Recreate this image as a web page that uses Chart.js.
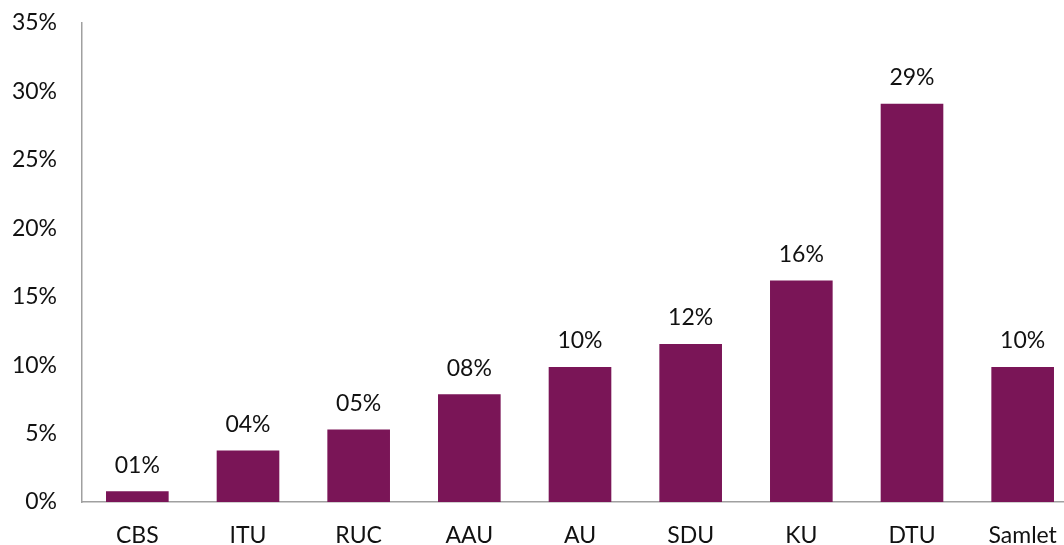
<!DOCTYPE html>
<html>
<head>
<meta charset="utf-8">
<script src="https://cdn.jsdelivr.net/npm/chart.js@4/dist/chart.umd.min.js"></script>
<style>
  html, body { margin: 0; padding: 0; background: #fff; overflow: hidden; }
  #wrap { width: 1064px; height: 545px; overflow: hidden; }
</style>
</head>
<body>
<div id="wrap"><canvas id="chart" width="1080" height="545"></canvas></div>
<script>
const categories = ['CBS', 'ITU', 'RUC', 'AAU', 'AU', 'SDU', 'KU', 'DTU', 'Samlet'];
const shares = [0.78, 3.76, 5.29, 7.87, 9.87, 11.55, 16.18, 29.1, 9.87];
const yTicks = [0, 5, 10, 15, 20, 25, 30, 35];

const barColor = '#7a1557';
const font = "Lato, 'Open Sans', sans-serif";

// value labels above the bars, Excel style "01%"
const barLabels = {
  id: 'barLabels',
  afterDatasetsDraw(chart) {
    const ctx = chart.ctx;
    const meta = chart.getDatasetMeta(0);
    ctx.save();
    ctx.font = '23px ' + font;
    ctx.fillStyle = '#111';
    ctx.textAlign = 'center';
    ctx.textBaseline = 'middle';
    meta.data.forEach((bar, i) => {
      const txt = String(Math.round(shares[i])).padStart(2, '0') + '%';
      ctx.fillText(txt, bar.x, bar.y - 26);
    });
    ctx.restore();
  }
};

new Chart(document.getElementById('chart'), {
  type: 'bar',
  data: {
    labels: categories,
    datasets: [{
      data: shares,
      backgroundColor: barColor,
      borderWidth: 0,
      categoryPercentage: 1,
      barPercentage: 0.566
    }]
  },
  plugins: [barLabels],
  options: {
    responsive: false,
    animation: false,
    layout: { padding: { top: 23, right: 2, left: 0, bottom: 0 } },
    plugins: { legend: { display: false }, tooltip: { enabled: false } },
    scales: {
      x: {
        grid: { display: false, drawTicks: false },
        border: { color: '#a0a0a0', width: 1.5 },
        ticks: { color: '#111', font: { family: font, size: 23 }, padding: 20, maxRotation: 0 },
        afterFit(scale) { scale.height = 43; }
      },
      y: {
        min: 0,
        max: 35,
        grid: { display: false, drawTicks: false },
        border: { color: '#a0a0a0', width: 1.5 },
        afterBuildTicks(scale) { scale.ticks = yTicks.map(v => ({ value: v })); },
        ticks: {
          color: '#111',
          font: { family: font, size: 23 },
          padding: 25,
          callback: v => v + '%'
        },
        afterFit(scale) {
          scale.width = 82;
          scale.paddingTop = 0;
          scale.paddingBottom = 0;
        }
      }
    }
  }
});
</script>
</body>
</html>
